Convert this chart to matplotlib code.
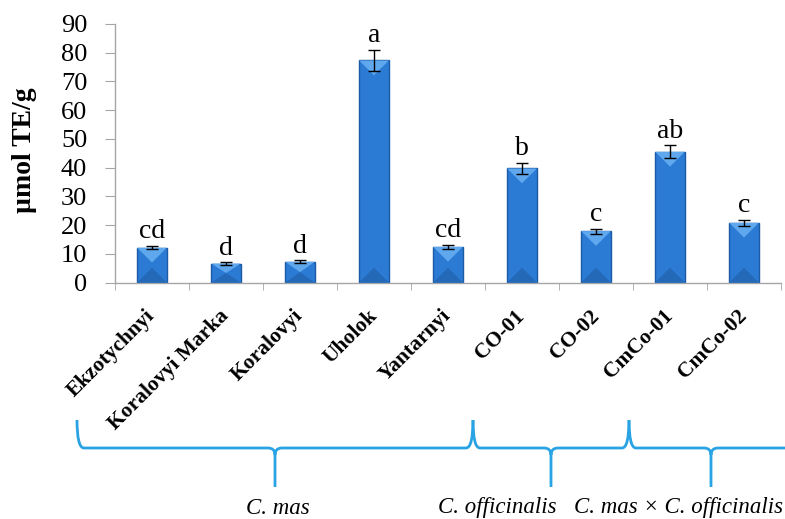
import matplotlib

matplotlib.use("Agg")
import matplotlib.pyplot as plt
from matplotlib.patches import Polygon, PathPatch
from matplotlib.path import Path

# Antioxidant activity per cultivar
cultivars = ["Ekzotychnyi", "Koralovyi Marka", "Koralovyi", "Uholok", "Yantarnyi",
             "CO-01", "CO-02", "CmCo-01", "CmCo-02"]
means = [12.1, 6.6, 7.2, 77.3, 12.4, 39.7, 17.9, 45.5, 20.8]
errors = [0.6, 0.4, 0.5, 3.8, 0.6, 2.0, 0.9, 2.2, 1.0]
letters = ["cd", "d", "d", "a", "cd", "b", "c", "ab", "c"]

# species groups shown under the cultivar names
groups = ["C. mas", "C. officinalis", "C. mas × C. officinalis"]

SERIF = ["Liberation Serif", "DejaVu Serif"]
BAR = "#2b7bd4"
BAR_EDGE = "#1b5ba6"
BAR_TOP = "#5fa8ee"
BAR_BOTTOM = "#2468b8"
BRACE = "#29a3e3"
AXIS = "#a6a6a6"

W, H = 785, 519
fig = plt.figure(figsize=(W / 100, H / 100), dpi=100)
ax = fig.add_axes([115 / W, 1 - 282.5 / H, 666 / W, 258.5 / H])

xs = list(range(len(cultivars)))
width = 0.4
bars = ax.bar(xs, means, width=width, color=BAR, edgecolor=BAR_EDGE,
              linewidth=1.0, zorder=2)
ax.errorbar(xs, means, yerr=errors, fmt="none", ecolor="black",
            elinewidth=1.0, capsize=4, capthick=1.0, zorder=4)

ax.set_xlim(-0.5, len(cultivars) - 0.5)
ax.set_ylim(0, 90)
ax.set_yticks(range(0, 91, 10))

# bevel shading: light top wedge, darker bottom wedge
fig.canvas.draw()
px_per_x = ax.transData.transform((1, 0))[0] - ax.transData.transform((0, 0))[0]
px_per_y = ax.transData.transform((0, 1))[1] - ax.transData.transform((0, 0))[1]
for rect in bars:
    x0 = rect.get_x()
    w = rect.get_width()
    h = rect.get_height()
    depth = min((w / 2) * px_per_x / px_per_y, h / 2)
    top = Polygon([(x0, h), (x0 + w, h), (x0 + w / 2, h - depth)],
                  closed=True, facecolor=BAR_TOP, edgecolor="none", zorder=3)
    bot = Polygon([(x0, 0), (x0 + w, 0), (x0 + w / 2, depth)],
                  closed=True, facecolor=BAR_BOTTOM, edgecolor="none", zorder=3)
    ax.add_patch(top)
    ax.add_patch(bot)

for x, m, e, lab in zip(xs, means, errors, letters):
    ax.text(x, m + e + 0.6, lab, ha="center", va="bottom",
            fontsize=20, family=SERIF, zorder=5)

ax.set_xticks(xs)
ax.set_xticklabels(cultivars, rotation=45, ha="right", va="center",
                   rotation_mode="anchor", fontsize=15.5, fontweight="bold",
                   family=SERIF)
ax.tick_params(axis="x", which="major", length=0, pad=22)
ax.set_xticks([x + 0.5 for x in range(-1, len(cultivars))], minor=True)
ax.tick_params(axis="x", which="minor", length=5, color=AXIS, direction="out")
ax.tick_params(axis="y", length=7, color=AXIS, direction="out", pad=13)
for t in ax.get_yticklabels():
    t.set_fontsize(19)
    t.set_family(SERIF)

ax.set_ylabel("µmol TE/g", fontsize=20, fontweight="bold", family=SERIF)
ax.yaxis.set_label_coords(-0.117, 0.513)

for side in ("top", "right"):
    ax.spines[side].set_visible(False)
for side in ("left", "bottom"):
    ax.spines[side].set_color(AXIS)
    ax.spines[side].set_linewidth(1.0)

# group braces below the cultivar labels, drawn in pixel space
over = fig.add_axes([0, 0, 1, 1], zorder=10)
over.set_xlim(0, W)
over.set_ylim(H, 0)
over.axis("off")


def brace(x0, x1, xm, ytop=420, ymid=448, ybot=487, r=7):
    verts = [
        (x0, ytop), (x0, ymid), (x0 + r, ymid),
        (xm - r, ymid), (xm, ymid), (xm, ymid + r),
        (xm, ybot),
        (xm, ymid + r), (xm, ymid), (xm + r, ymid),
        (x1 - r, ymid), (x1, ymid), (x1, ytop),
    ]
    codes = [
        Path.MOVETO, Path.CURVE3, Path.CURVE3,
        Path.LINETO, Path.CURVE3, Path.CURVE3,
        Path.LINETO,
        Path.MOVETO, Path.CURVE3, Path.CURVE3,
        Path.LINETO, Path.CURVE3, Path.CURVE3,
    ]
    over.add_patch(PathPatch(Path(verts, codes), facecolor="none",
                             edgecolor=BRACE, linewidth=2.0))


brace(77, 473, 275)
brace(473, 629, 551)
brace(629, 820, 711)

label_x = [278, 497, 678]
for x, g in zip(label_x, groups):
    over.text(x, 508, g, ha="center", va="center", fontsize=16.5,
              style="italic", family=SERIF)

fig.savefig("out.png", dpi=100, facecolor="white")
